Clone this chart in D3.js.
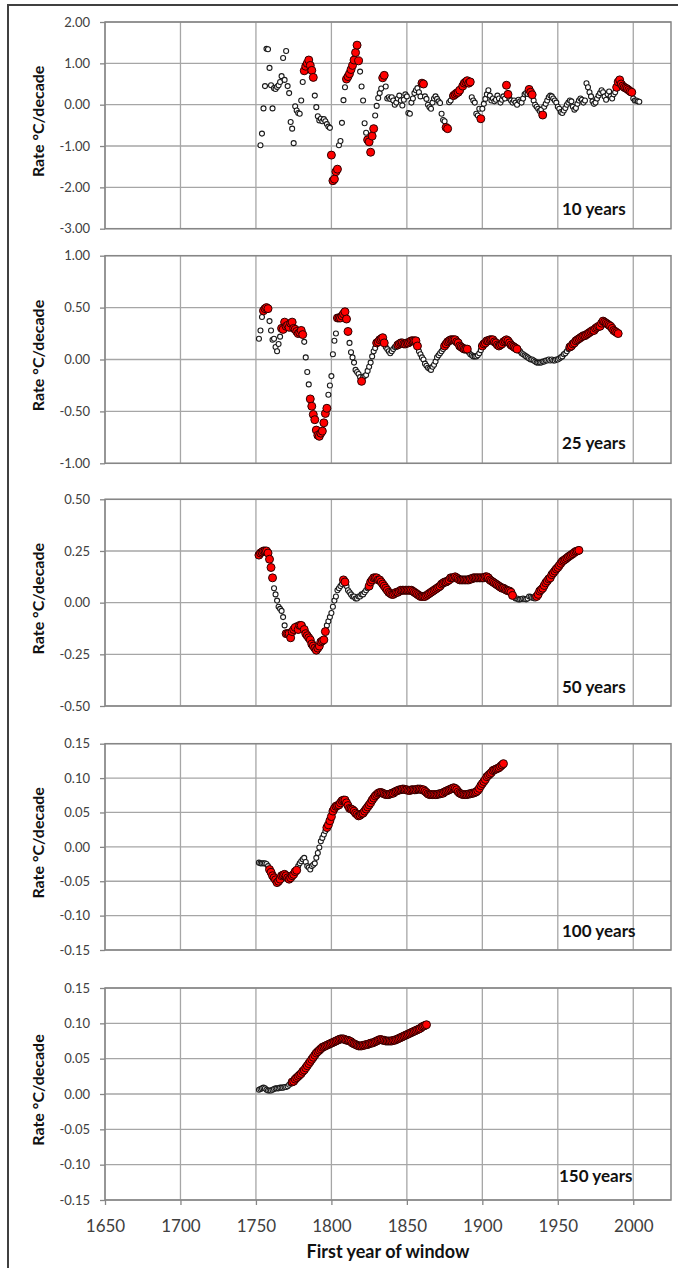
<!DOCTYPE html>
<html><head><meta charset="utf-8">
<script src="https://cdn.jsdelivr.net/npm/d3@7"></script>
<style>
body{margin:0;background:#fff}
svg text{font-family:Lato,"Open Sans",sans-serif}
</style>
</head><body><svg id="chart" width="678" height="1268"></svg>
<script>
// ---------------- DATA ----------------
const windowLabels = ["10 years","25 years","50 years","100 years","150 years"];
const xTicks = [1650,1700,1750,1800,1850,1900,1950,2000];
const yTicks10 = [-3,-2,-1,0,1,2];
const yTicks25 = [-1,-0.5,0,0.5,1];
const yTicks50 = [-0.5,-0.25,0,0.25,0.5];
const yTicks100 = [-0.15,-0.10,-0.05,0,0.05,0.10,0.15];
const yTicks150 = [-0.15,-0.10,-0.05,0,0.05,0.10,0.15];
const yAxisTitle = "Rate °C/decade";
const xAxisTitle = "First year of window";

const start10 = 1753;
const rate10 = [
 -0.98,-0.70,-0.09,0.45,1.35,1.34,0.89,
 0.47,-0.09,0.40,0.38,0.43,0.47,0.55,0.69,1.13,0.60,
 1.30,0.45,0.28,-0.42,-0.58,-0.93,-0.04,-0.14,-0.20,-0.22,
 0.10,0.55,0.82,0.93,1.00,1.08,0.95,0.83,0.66,0.22,
 -0.06,-0.28,-0.38,-0.34,-0.40,-0.35,-0.40,-0.47,-0.53,-0.56,
 -1.22,-1.84,-1.80,-1.62,-1.56,-0.98,-0.88,-0.44,0.11,0.42,
 0.62,0.68,0.75,0.85,0.95,1.08,1.26,1.44,1.06,0.80,
 0.44,0.10,-0.45,-0.68,-0.85,-0.90,-1.15,-0.76,-0.58,-0.26,
 -0.03,0.16,0.28,0.39,0.65,0.71,0.44,0.15,0.18,0.14,
 0.18,0.10,0.00,0.05,0.15,0.22,0.10,-0.02,0.12,0.25,
 0.20,-0.20,-0.22,0.05,0.15,0.28,0.35,0.40,0.30,0.20,
 0.52,0.50,0.20,0.14,0.00,-0.06,-0.10,0.05,0.15,0.20,
 0.14,0.08,0.04,-0.22,-0.37,-0.40,-0.55,-0.58,0.06,0.10,
 0.20,0.22,0.25,0.28,0.30,0.35,0.40,0.45,0.52,0.55,
 0.58,0.52,0.55,0.18,0.10,0.05,-0.22,-0.26,-0.10,-0.34,
 -0.10,0.02,0.14,0.25,0.35,0.22,0.10,0.15,0.08,0.12,
 0.22,0.15,0.05,0.12,0.20,0.15,0.47,0.25,0.15,0.10,
 0.05,0.10,0.05,0.00,0.12,0.08,0.05,0.15,0.25,0.28,
 0.26,0.37,0.30,0.24,0.10,0.00,-0.05,-0.10,-0.15,-0.12,
 -0.25,-0.05,0.02,0.10,0.18,0.22,0.20,0.15,0.10,0.05,
 -0.05,-0.10,-0.18,-0.20,-0.14,-0.08,0.00,0.05,0.10,0.08,
 -0.05,-0.12,-0.08,0.02,0.10,0.15,0.12,0.05,0.10,0.52,
 0.42,0.30,0.20,0.08,0.02,0.05,0.15,0.22,0.28,0.35,
 0.30,0.20,0.12,0.25,0.32,0.20,0.15,0.25,0.30,0.42,
 0.55,0.60,0.50,0.45,0.42,0.40,0.38,0.35,0.32,0.30,
 0.15,0.10,0.10,0.08,0.07
];
const sig10 = [[1782,1788],[1800,1804],[1810,1818],[1824,1828],[1834,1835],[1860,1861],[1876,1877],[1881,1885],[1887,1892],[1899,1899],[1916,1917],[1931,1933],[1940,1940],[1989,1999]];

const start25 = 1752;
const rate25 = [
 0.20,0.28,0.41,0.47,0.49,0.50,0.49,0.37,
 0.28,0.19,0.20,0.12,0.08,0.15,0.22,0.30,0.29,0.36,
 0.32,0.33,0.31,0.35,0.36,0.30,0.29,0.27,0.25,0.26,
 0.28,0.24,0.17,0.02,-0.12,-0.24,-0.38,-0.45,-0.53,-0.58,
 -0.68,-0.73,-0.74,-0.71,-0.69,-0.61,-0.52,-0.47,-0.34,-0.25,
 -0.16,0.05,0.18,0.25,0.40,0.40,0.40,0.42,0.44,0.46,
 0.39,0.27,0.16,0.07,0.02,-0.03,-0.10,-0.12,-0.14,-0.17,
 -0.21,-0.17,-0.16,-0.15,-0.11,-0.07,-0.03,0.03,0.08,0.11,
 0.16,0.17,0.19,0.20,0.21,0.16,0.12,0.10,0.08,0.06,
 0.08,0.10,0.12,0.12,0.14,0.15,0.16,0.16,0.15,0.15,
 0.16,0.16,0.17,0.18,0.18,0.18,0.18,0.13,0.08,0.05,
 0.02,0.00,-0.04,-0.06,-0.08,-0.09,-0.10,-0.07,-0.05,-0.02,
 0.02,0.04,0.06,0.08,0.10,0.13,0.15,0.17,0.18,0.19,
 0.19,0.19,0.19,0.17,0.16,0.13,0.12,0.11,0.10,0.10,
 0.10,0.07,0.05,0.04,0.03,0.03,0.03,0.04,0.06,0.09,
 0.13,0.15,0.16,0.18,0.18,0.19,0.19,0.19,0.17,0.16,
 0.14,0.13,0.14,0.15,0.17,0.18,0.19,0.18,0.16,0.14,
 0.13,0.12,0.11,0.10,0.09,0.08,0.06,0.05,0.04,0.03,
 0.02,0.01,0.00,0.00,-0.01,-0.02,-0.03,-0.03,-0.03,-0.03,
 -0.02,-0.02,-0.01,-0.01,0.00,-0.01,0.00,-0.01,-0.01,0.00,
 0.00,0.01,0.02,0.03,0.05,0.06,0.08,0.10,0.12,0.13,
 0.15,0.16,0.18,0.19,0.20,0.21,0.22,0.23,0.23,0.24,
 0.25,0.26,0.27,0.28,0.28,0.30,0.31,0.32,0.32,0.35,
 0.37,0.36,0.35,0.34,0.33,0.32,0.30,0.28,0.27,0.26,
 0.25
];
const sig25 = [[1755,1758],[1767,1781],[1786,1797],[1804,1811],[1820,1820],[1830,1835],[1844,1857],[1875,1890],[1900,1923],[1958,1990]];

const start50 = 1752;
const rate50 = [
 0.23,0.24,0.245,0.25,0.25,0.25,0.24,0.21,
 0.17,0.12,0.07,0.04,0.01,-0.02,-0.03,-0.04,-0.07,-0.11,
 -0.15,-0.15,-0.15,-0.17,-0.14,-0.13,-0.12,-0.11,-0.13,-0.11,
 -0.11,-0.11,-0.13,-0.15,-0.16,-0.17,-0.18,-0.20,-0.21,-0.22,
 -0.23,-0.22,-0.21,-0.19,-0.185,-0.18,-0.14,-0.11,-0.09,-0.07,
 -0.05,-0.02,0.01,0.03,0.06,0.07,0.08,0.09,0.11,0.10,
 0.08,0.06,0.05,0.04,0.03,0.03,0.02,0.02,0.03,0.03,
 0.04,0.04,0.05,0.06,0.07,0.08,0.10,0.11,0.12,0.12,
 0.12,0.11,0.11,0.10,0.09,0.08,0.07,0.06,0.05,0.045,
 0.04,0.04,0.045,0.05,0.05,0.055,0.06,0.06,0.06,0.06,
 0.06,0.06,0.06,0.06,0.055,0.05,0.045,0.04,0.035,0.03,
 0.03,0.03,0.03,0.035,0.04,0.045,0.05,0.055,0.06,0.065,
 0.07,0.075,0.08,0.09,0.095,0.10,0.10,0.105,0.11,0.12,
 0.12,0.12,0.125,0.12,0.115,0.11,0.11,0.11,0.11,0.11,
 0.11,0.11,0.115,0.115,0.12,0.12,0.12,0.12,0.12,0.12,
 0.12,0.12,0.125,0.125,0.12,0.11,0.105,0.10,0.095,0.09,
 0.085,0.08,0.075,0.07,0.07,0.065,0.06,0.058,0.056,0.05,
 0.035,0.03,0.02,0.02,0.015,0.016,0.018,0.02,0.018,0.016,
 0.02,0.03,0.028,0.024,0.022,0.02,0.03,0.04,0.056,0.063,
 0.07,0.083,0.096,0.105,0.115,0.12,0.135,0.144,0.153,0.163,
 0.17,0.18,0.19,0.20,0.205,0.21,0.216,0.222,0.227,0.232,
 0.237,0.243,0.248,0.25,0.253
];
const sig50 = [[1752,1761],[1770,1776],[1778,1780],[1782,1796],[1808,1809],[1825,1920],[1936,1964]];

const start100 = 1752;
const rate100 = [
 -0.023,-0.024,-0.024,-0.024,-0.024,-0.025,-0.028,-0.033,
 -0.037,-0.042,-0.045,-0.048,-0.052,-0.050,-0.047,-0.042,-0.041,-0.040,
 -0.042,-0.045,-0.047,-0.045,-0.042,-0.040,-0.036,-0.034,-0.028,-0.024,
 -0.021,-0.018,-0.016,-0.022,-0.028,-0.030,-0.033,-0.028,-0.026,-0.024,
 -0.016,-0.009,-0.001,0.008,0.013,0.018,0.023,0.028,0.032,0.038,
 0.044,0.052,0.056,0.059,0.060,0.061,0.064,0.067,0.068,0.068,
 0.064,0.060,0.056,0.055,0.054,0.052,0.049,0.047,0.045,0.046,
 0.048,0.049,0.052,0.055,0.058,0.061,0.064,0.068,0.071,0.074,
 0.076,0.078,0.079,0.079,0.078,0.077,0.076,0.076,0.076,0.077,
 0.078,0.078,0.080,0.081,0.082,0.083,0.083,0.084,0.084,0.083,
 0.083,0.082,0.082,0.083,0.083,0.083,0.083,0.084,0.084,0.084,
 0.083,0.083,0.081,0.079,0.077,0.076,0.076,0.076,0.076,0.076,
 0.076,0.077,0.077,0.078,0.078,0.080,0.081,0.082,0.083,0.084,
 0.085,0.086,0.085,0.083,0.080,0.078,0.077,0.076,0.076,0.076,
 0.076,0.077,0.077,0.078,0.078,0.079,0.080,0.082,0.085,0.089,
 0.092,0.095,0.098,0.102,0.104,0.106,0.108,0.111,0.112,0.113,
 0.114,0.115,0.117,0.119,0.121
];
const sig100 = [[1759,1777],[1797,1914]];

const start150 = 1752;
const rate150 = [
 0.006,0.007,0.008,0.009,0.008,0.006,0.005,0.005,
 0.005,0.006,0.007,0.008,0.008,0.008,0.009,0.009,0.009,0.010,
 0.010,0.011,0.013,0.015,0.017,0.018,0.021,0.023,0.025,0.027,
 0.029,0.032,0.034,0.037,0.040,0.043,0.046,0.049,0.052,0.055,
 0.058,0.060,0.062,0.064,0.066,0.067,0.068,0.069,0.070,0.071,
 0.072,0.073,0.074,0.075,0.076,0.077,0.078,0.078,0.078,0.077,
 0.076,0.076,0.075,0.074,0.072,0.071,0.070,0.069,0.068,0.068,
 0.068,0.069,0.069,0.070,0.070,0.071,0.072,0.072,0.073,0.074,
 0.075,0.076,0.077,0.077,0.076,0.076,0.075,0.075,0.075,0.075,
 0.075,0.076,0.076,0.077,0.078,0.079,0.080,0.081,0.082,0.083,
 0.084,0.085,0.086,0.087,0.088,0.089,0.090,0.091,0.092,0.093,
 0.095,0.096,0.097,0.098
];
const sig150 = [[1774,1863]];

// ---------------- LAYOUT ----------------
const svg = d3.select("#chart");
svg.append("rect").attr("width",678).attr("height",1268).attr("fill","#fff");
svg.append("rect").attr("x",8).attr("y",5).attr("width",700).attr("height",1300)
  .attr("fill","none").attr("stroke","#404040").attr("stroke-width",2);

const plotLeft = 105, plotRight = 671;
const x = d3.scaleLinear().domain([1650,2025]).range([plotLeft,plotRight]);

const panels = [
  {start:start10, rate:rate10, sig:sig10, ticks:yTicks10, top:22, bottom:228.7, label:windowLabels[0], lx:562, ly:215},
  {start:start25, rate:rate25, sig:sig25, ticks:yTicks25, top:255.7, bottom:463.3, label:windowLabels[1], lx:562, ly:449.3},
  {start:start50, rate:rate50, sig:sig50, ticks:yTicks50, top:499.3, bottom:706, label:windowLabels[2], lx:562, ly:693.3},
  {start:start100, rate:rate100, sig:sig100, ticks:yTicks100, top:743.7, bottom:950, label:windowLabels[3], lx:562, ly:937.3},
  {start:start150, rate:rate150, sig:sig150, ticks:yTicks150, top:988, bottom:1200, label:windowLabels[4], lx:559, ly:1181.7}
];

const gridColor = "#a6a6a6", borderColor = "#868686";

panels.forEach((p, i) => {
  const y = d3.scaleLinear().domain(d3.extent(p.ticks)).range([p.bottom, p.top]);
  const g = svg.append("g");
  // gridlines
  g.selectAll(".hg").data(p.ticks).join("line")
    .attr("x1",plotLeft).attr("x2",plotRight).attr("y1",d=>y(d)).attr("y2",d=>y(d))
    .attr("stroke",gridColor).attr("stroke-width",1.3);
  g.selectAll(".vg").data(xTicks).join("line")
    .attr("x1",d=>x(d)).attr("x2",d=>x(d)).attr("y1",p.top).attr("y2",p.bottom)
    .attr("stroke",gridColor).attr("stroke-width",1.3);
  g.append("rect").attr("x",plotLeft).attr("y",p.top).attr("width",plotRight-plotLeft).attr("height",p.bottom-p.top)
    .attr("fill","none").attr("stroke",borderColor).attr("stroke-width",1.5);

  // y axis
  const ya = g.append("g").attr("transform",`translate(${plotLeft},0)`)
    .call(d3.axisLeft(y).tickValues(p.ticks).tickSize(5).tickPadding(10).tickFormat(d=>d.toFixed(2)));
  ya.select(".domain").remove();
  ya.selectAll(".tick line").attr("stroke",borderColor).attr("stroke-width",1.3);
  ya.selectAll(".tick text").attr("fill","#404040").style("font-size","13px").style("font-family","Lato, sans-serif");

  // y title
  g.append("text").attr("transform",`translate(44,${(p.top+p.bottom)/2 - 4}) rotate(-90)`)
    .attr("text-anchor","middle").attr("font-weight","bold").style("font-size","16px").attr("fill","#111")
    .text(yAxisTitle);

  // points
  const pts = p.rate.map((v,k)=>({year:p.start+k, v, s:p.sig.some(r=>p.start+k>=r[0]&&p.start+k<=r[1])}));
  g.selectAll(".open").data(pts.filter(d=>!d.s)).join("circle")
    .attr("cx",d=>x(d.year)).attr("cy",d=>y(d.v)).attr("r",2.5)
    .attr("fill","#fff").attr("stroke","#1a1a1a").attr("stroke-width",1.1);
  g.selectAll(".sig").data(pts.filter(d=>d.s)).join("circle")
    .attr("cx",d=>x(d.year)).attr("cy",d=>y(d.v)).attr("r",4)
    .attr("fill","#ff0000").attr("stroke","#2a0000").attr("stroke-width",1);

  // panel label
  g.append("text").attr("x",p.lx).attr("y",p.ly).attr("font-weight","bold")
    .style("font-size","17px").attr("fill","#111").text(p.label);

  if (i === panels.length-1) {
    const xa = g.append("g").attr("transform",`translate(0,${p.bottom})`)
      .call(d3.axisBottom(x).tickValues(xTicks).tickSize(5).tickPadding(15).tickFormat(d3.format("d")));
    xa.select(".domain").remove();
    xa.selectAll(".tick line").attr("stroke",borderColor).attr("stroke-width",1.3);
    xa.selectAll(".tick text").attr("fill","#404040").style("font-size","17px").style("font-family","Lato, sans-serif");
    g.append("text").attr("x",(plotLeft+plotRight)/2).attr("y",1258).attr("text-anchor","middle")
      .attr("font-weight","bold").style("font-size","18px").attr("fill","#111").text(xAxisTitle);
  }
});
</script>
</body></html>
